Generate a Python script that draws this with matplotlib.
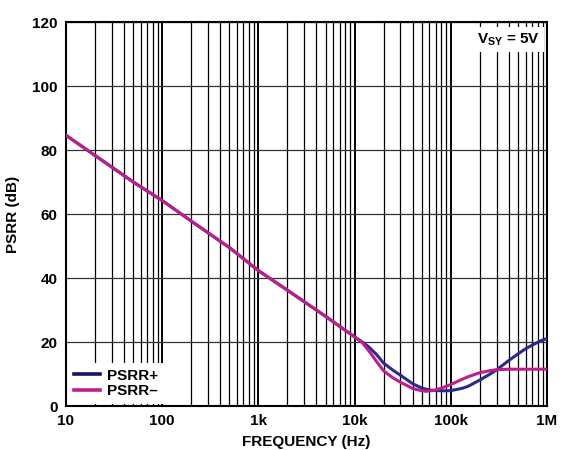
import numpy as np
import matplotlib
matplotlib.use("Agg")
import matplotlib.pyplot as plt
from matplotlib.ticker import FixedLocator, NullFormatter

plt.rcParams['font.family'] = ['Liberation Sans', 'DejaVu Sans']
plt.rcParams['font.weight'] = 'bold'
plt.rcParams['mathtext.fontset'] = 'custom'
plt.rcParams['mathtext.rm'] = 'Liberation Sans:bold'
plt.rcParams['mathtext.bf'] = 'Liberation Sans:bold'

# valores (Hz, dB)
freq_pos = [10, 20, 50, 100, 200, 500, 1e3, 2e3, 5e3, 1e4, 1.2e4, 1.4e4, 1.7e4, 2e4, 2.5e4, 3e4,
            4e4, 5e4, 6e4, 7e4, 8.5e4, 1e5, 1.3e5, 1.5e5, 2e5, 2.5e5, 3e5, 4e5, 5e5, 6e5, 7e5,
            8.5e5, 1e6]
psrr_pos = [84.6, 78.3, 70.0, 64.2, 57.8, 49.5, 42.3, 36.2, 28.0, 21.6, 20.0, 18.5, 16.0, 13.4, 11.2, 9.6,
            7.0, 5.6, 5.0, 4.8, 4.75, 4.8, 5.5, 6.1, 8.1, 9.8, 11.3, 14.2, 16.3, 17.9, 19.0,
            20.3, 21.1]

freq_neg = [10, 20, 50, 100, 200, 500, 1e3, 2e3, 5e3, 1e4, 1.2e4, 1.4e4, 1.7e4, 2e4, 2.5e4, 3e4,
            4e4, 5e4, 5.5e4, 6.5e4, 8e4, 1e5, 1.3e5, 1.5e5, 2e5, 2.5e5, 3e5, 4e5, 1e6]
psrr_neg = [84.6, 78.3, 70.0, 64.2, 57.8, 49.5, 42.3, 36.2, 28.0, 21.6, 19.8, 17.3, 13.8, 11.0, 8.8, 7.4,
            5.5, 4.75, 4.6, 4.8, 5.6, 6.7, 8.3, 9.1, 10.4, 11.0, 11.35, 11.5, 11.5]

x_ticks = [10, 100, 1e3, 1e4, 1e5, 1e6]
x_labels = ["10", "100", "1k", "10k", "100k", "1M"]
y_ticks = [0, 20, 40, 60, 80, 100, 120]

cor_pos = "#2a2a8e"
cor_neg = "#be1e8c"

fig = plt.figure(figsize=(5.63, 4.5), dpi=100)
ax = fig.add_axes([66/563, 44/450, 481/563, 384/450])

ax.plot(freq_pos, psrr_pos, color=cor_pos, lw=2.2, label="PSRR+", zorder=3,
        solid_joinstyle="round")
ax.plot(freq_neg, psrr_neg, color=cor_neg, lw=2.2, label="PSRR\u2013", zorder=4,
        solid_joinstyle="round")

ax.set_xscale("log")
ax.set_xlim(10, 1e6)
ax.set_ylim(0, 120)

ax.xaxis.set_major_locator(FixedLocator(x_ticks))
ax.set_xticklabels(x_labels)
minors = [m * d for d in [10, 100, 1e3, 1e4, 1e5] for m in range(2, 10)]
ax.xaxis.set_minor_locator(FixedLocator(minors))
ax.xaxis.set_minor_formatter(NullFormatter())
ax.set_yticks(y_ticks)

ax.grid(True, which="major", axis="x", color="black", lw=1.4)
ax.grid(True, which="minor", axis="x", color="black", lw=0.9)
ax.grid(True, which="major", axis="y", color="#333333", lw=0.9)
ax.set_axisbelow(True)

ax.tick_params(which="both", length=0, labelsize=11, pad=6)
for s in ax.spines.values():
    s.set_linewidth(1.5)

ax.set_xlabel("FREQUENCY (Hz)", fontsize=11, fontweight="bold", labelpad=5)
ax.set_ylabel("PSRR (dB)", fontsize=11, fontweight="bold", labelpad=9)

leg = ax.legend(loc="lower left", frameon=True, fancybox=False, fontsize=11,
                handlelength=1.7, handletextpad=0.5, labelspacing=0.1,
                borderaxespad=0.15, borderpad=0.35)
leg.get_frame().set_edgecolor("none")
leg.get_frame().set_facecolor("white")
leg.get_frame().set_alpha(1)
for h in leg.get_lines():
    h.set_linewidth(2.6)
leg.get_lines()[0].set_color("#141460")

ax.text(0.985, 0.975, r"$\mathbf{V_{SY}}$ = 5V", transform=ax.transAxes, ha="right", va="top",
        fontsize=11, fontweight="bold",
        bbox=dict(facecolor="white", edgecolor="none", pad=3))

fig.savefig("out.png", dpi=100)
